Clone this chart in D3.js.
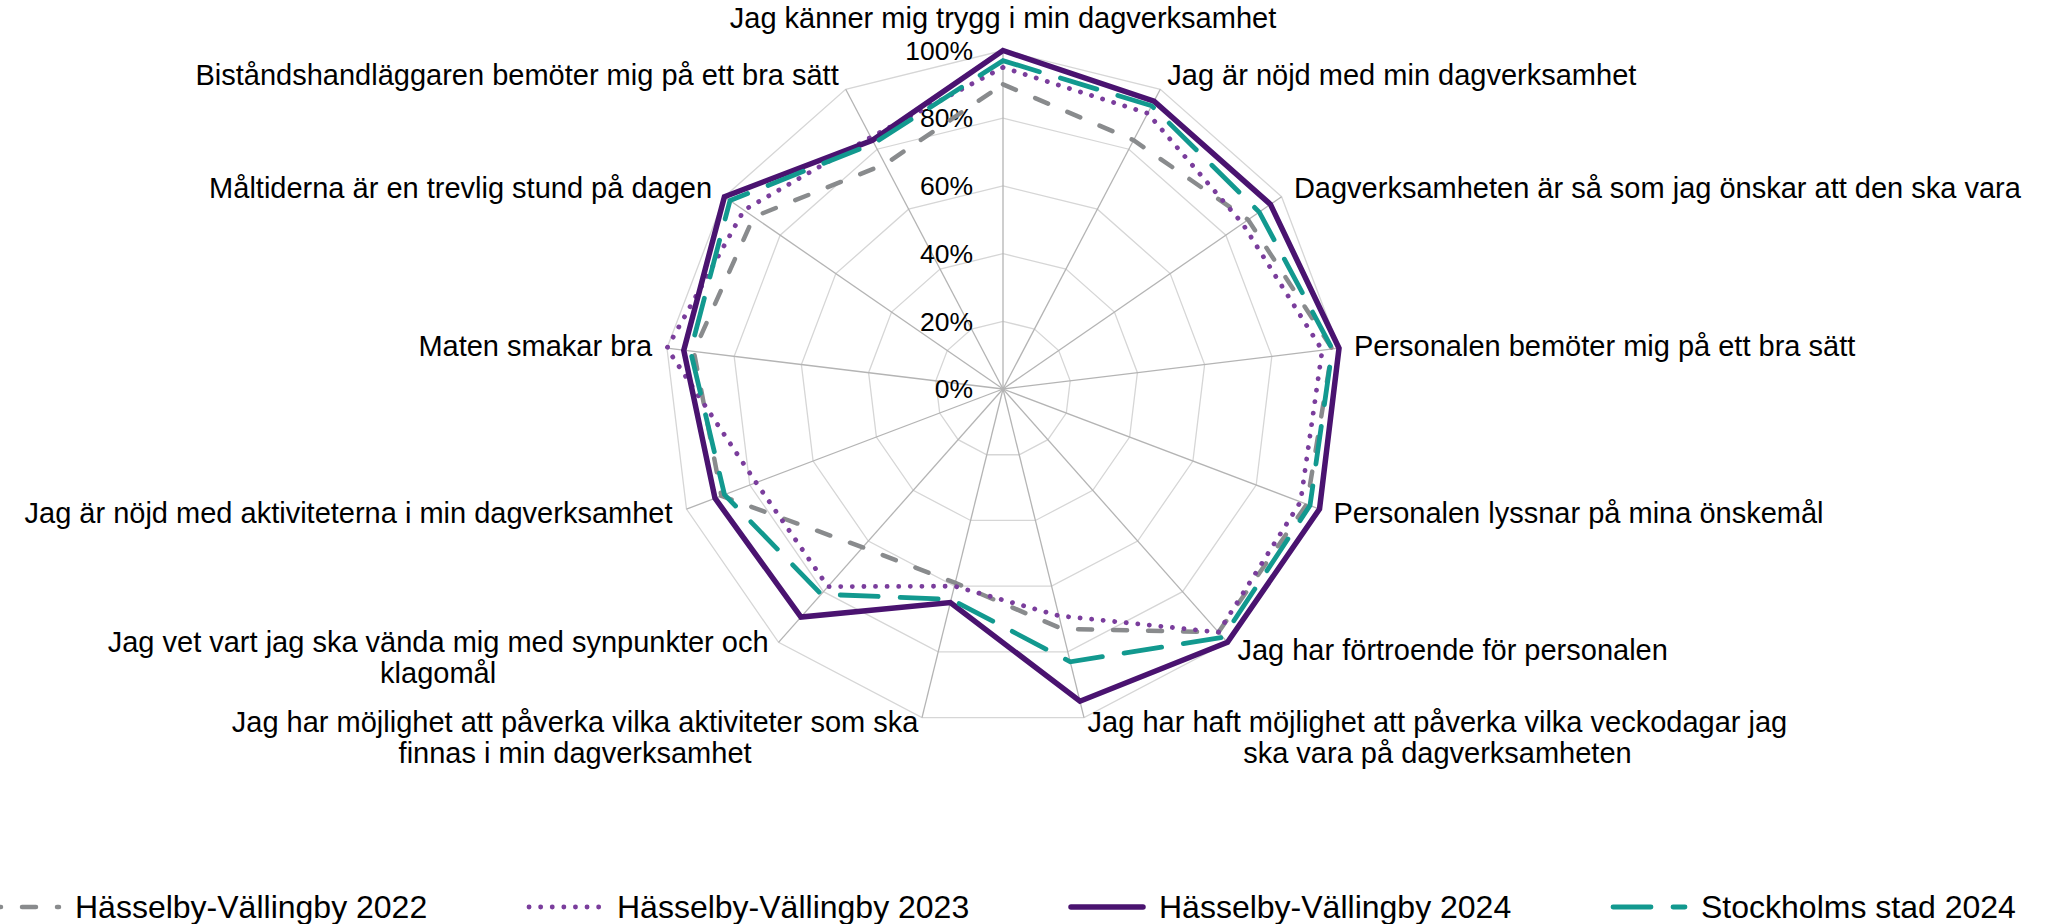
<!DOCTYPE html>
<html>
<head>
<meta charset="utf-8">
<script src="https://cdn.jsdelivr.net/npm/d3@7"></script>
<style>
  body { margin: 0; background: #fff; }
  svg { display: block; font-family: "Liberation Sans", Arial, sans-serif; }
</style>
</head>
<body>
<script>
// Questions, clockwise from the top (one entry per text line)
const categories = [
    ["Jag känner mig trygg i min dagverksamhet"],
    ["Jag är nöjd med min dagverksamhet"],
    ["Dagverksamheten är så som jag önskar att den ska vara"],
    ["Personalen bemöter mig på ett bra sätt"],
    ["Personalen lyssnar på mina önskemål"],
    ["Jag har förtroende för personalen"],
    ["Jag har haft möjlighet att påverka vilka veckodagar jag", "ska vara på dagverksamheten"],
    ["Jag har möjlighet att påverka vilka aktiviteter som ska", "finnas i min dagverksamhet"],
    ["Jag vet vart jag ska vända mig med synpunkter och", "klagomål"],
    ["Jag är nöjd med aktiviteterna i min dagverksamhet"],
    ["Maten smakar bra"],
    ["Måltiderna är en trevlig stund på dagen"],
    ["Biståndshandläggaren bemöter mig på ett bra sätt"]
];

// Share of positive answers (%)
const hv2022 = [90, 83, 88, 98, 96, 96, 73, 59, 62.5, 89, 92, 89.5, 75];
const hv2023 = [95, 92, 86, 95, 94, 96, 69, 60, 78, 78, 100, 93, 84];
const hv2024 = [100, 96, 96, 100, 100, 100, 95, 65, 90, 91, 95, 100, 83];
const sthlm2024 = [97, 94.5, 92, 98, 97, 98, 83, 64, 81, 88, 93, 98, 82];

const seriesNames = ["Hässelby-Vällingby 2022", "Hässelby-Vällingby 2023", "Hässelby-Vällingby 2024", "Stockholms stad 2024"];
const tickValues = [0, 20, 40, 60, 80, 100];

const width = 2056, height = 924;
const cx = 1003, cy = 389, radius = 338.5;

const svg = d3.select("body").append("svg")
    .attr("width", width)
    .attr("height", height);

const g = svg.append("g").attr("transform", `translate(${cx},${cy})`);

// Scales
const rScale = d3.scaleLinear().domain([0, 100]).range([0, radius]);
const aScale = d3.scaleLinear().domain([0, categories.length]).range([0, 2 * Math.PI]);

const radial = d3.lineRadial()
    .angle((d, i) => aScale(i))
    .radius(d => rScale(d))
    .curve(d3.curveLinearClosed);

// Grid rings
tickValues.filter(t => t > 0).forEach(t => {
    g.append("path")
        .attr("d", radial(categories.map(() => t)))
        .attr("fill", "none")
        .attr("stroke", "#d6d6d6")
        .attr("stroke-width", 1.3);
});

// Spokes
categories.forEach((c, i) => {
    const [x, y] = d3.pointRadial(aScale(i), rScale(100));
    g.append("line")
        .attr("x1", 0).attr("y1", 0)
        .attr("x2", x).attr("y2", y)
        .attr("stroke", "#b4b4b4")
        .attr("stroke-width", 1.3);
});

// Tick labels
g.selectAll(".tick")
    .data(tickValues)
    .join("text")
    .attr("x", -30)
    .attr("y", d => -rScale(d))
    .attr("dy", "0.35em")
    .attr("text-anchor", "end")
    .style("font-size", "26.5px")
    .attr("fill", "#000")
    .text(d => d + "%");

// Series
const styles = [
    { color: "#898b8d", width: 4.5, dash: "14,21" },
    { color: "#7a3d9c", width: 4.8, dash: "0.1,11.5" },
    { color: "#4a1370", width: 5.5, dash: null },
    { color: "#12998f", width: 4.8, dash: "38,22" }
];
const seriesValues = [hv2022, hv2023, hv2024, sthlm2024];

seriesValues.forEach((vals, k) => {
    g.append("path")
        .attr("d", radial(vals))
        .attr("fill", "none")
        .attr("stroke", styles[k].color)
        .attr("stroke-width", styles[k].width)
        .attr("stroke-linecap", "round")
        .attr("stroke-linejoin", "miter")
        .attr("stroke-dasharray", styles[k].dash);
});

// Category labels
const lineH = 31;
categories.forEach((lines, i) => {
    const a = aScale(i);
    const s = Math.sin(a), c = Math.cos(a);
    const [px, py] = d3.pointRadial(a, rScale(100));
    const t = g.append("text")
        .style("font-size", "29px")
        .attr("fill", "#000");

    if (Math.abs(s) < 0.05) {
        t.attr("text-anchor", "middle")
            .attr("x", px)
            .attr("y", py - 23)
            .text(lines[0]);
        return;
    }

    const spans = lines.map(l => t.append("tspan").text(l));
    const widths = spans.map(sp => sp.node().getComputedTextLength());
    const blockW = d3.max(widths);
    const blockH = lines.length * lineH + 2;
    const left = s > 0 ? px + 15 * s : px - 15 * Math.abs(s) - blockW;
    // shift the block away from the ring, more for labels above the centre
    const centerY = py - c * blockH * (c > 0 ? 0.48 : 0.32);
    const firstY = centerY - (lines.length - 1) * lineH / 2;
    t.attr("text-anchor", "middle");
    spans.forEach((sp, j) => {
        sp.attr("x", left + blockW / 2)
            .attr("y", firstY + j * lineH)
            .attr("dy", "0.35em");
    });
});

// Legend
const legendY = 907;
seriesNames.forEach((name, k) => {
    const tx = 75 + 542 * k;
    svg.append("line")
        .attr("x1", tx - 88).attr("x2", tx - 16)
        .attr("y1", legendY).attr("y2", legendY)
        .attr("stroke", styles[k].color)
        .attr("stroke-width", styles[k].width)
        .attr("stroke-linecap", "round")
        .attr("stroke-dasharray", styles[k].dash);
    svg.append("text")
        .attr("x", tx)
        .attr("y", legendY)
        .attr("dy", "0.35em")
        .style("font-size", "32px")
        .text(name);
});
</script>
</body>
</html>
